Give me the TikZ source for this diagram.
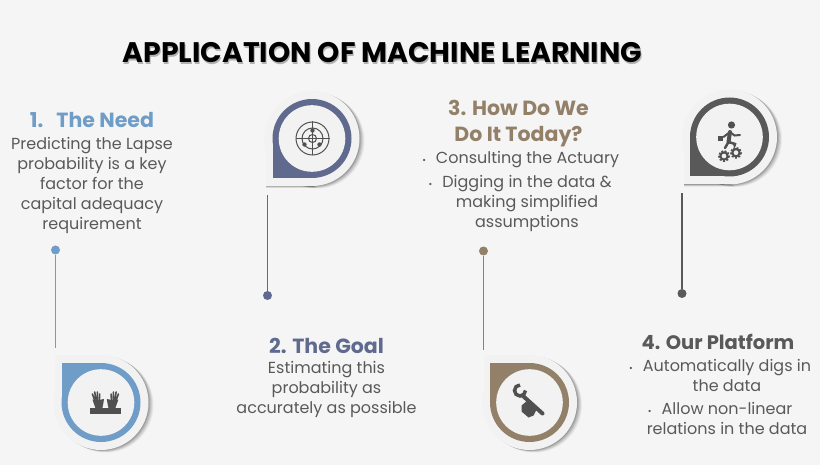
\documentclass[tikz,border=0pt]{standalone}
\usepackage{xcolor}
\usepackage{fontspec}
\setmainfont{Poppins}
\usetikzlibrary{positioning}
\definecolor{bgcol}{HTML}{F5F5F5}
\definecolor{paper}{HTML}{F2F2F2}
\definecolor{needcol}{HTML}{6F9DC8}
\definecolor{goalcol}{HTML}{5F6A8E}
\definecolor{todaycol}{HTML}{928069}
\definecolor{platcol}{HTML}{595959}
\definecolor{bodycol}{HTML}{595959}
\definecolor{iconcol}{HTML}{505050}
\tikzset{
  title/.style={font=\bfseries\fontsize{28.3}{32}\selectfont, inner sep=0pt},
  head/.style={font=\bfseries\fontsize{20.5}{26}\selectfont, inner sep=0pt, align=center},
  body/.style={font=\fontsize{16}{20}\selectfont, text=bodycol, inner sep=0pt, align=center},
  dot/.style={circle, minimum size=9pt, inner sep=0pt},
  link/.style={line width=1.4pt},
  icon/.style={fill=iconcol, draw=none}
}
% tear-shaped pin: #1 centre, #2 colour, #3 side of the corner (-1 above, 1 below)
\newcommand{\pinshape}[3]{
  \begin{scope}[shift={#1}]
    \foreach \s/\o in {5/.05, 4/.07, 3/.08, 2/.10, 1/.12}{
      \fill[black, opacity=\o] (\s,.5*\s) circle (47.5);
      \fill[black, opacity=\o] (\s,.5*\s) rectangle (-46,47.5*#3+.5*\s);
    }
    \fill[paper] (0,0) circle (47.5);
    \fill[paper] (0,0) rectangle (-46,47.5*#3);
    \fill[#2] (0,0) circle (39.5);
    \fill[#2] (0,0) rectangle (-39.5,39.5*#3);
    \fill[paper] (0,0) circle (33.3);
  \end{scope}
}
\newcommand{\bul}{\llap{{\fontsize{9}{9}\selectfont\textbullet}\hspace{10pt}}}
\begin{document}
\begin{tikzpicture}[x=1pt,y=-1pt]
  \useasboundingbox[fill=bgcol] (0,0) rectangle (820,465);

  \node[title, text=black!30] (titleshadow) at (383.5,54.5) {APPLICATION OF MACHINE LEARNING};
  \node[title] (title) at (382.5,53) {APPLICATION OF MACHINE LEARNING};

  % pins
  \pinshape{(101,402.5)}{needcol}{-1}
  \pinshape{(312,138.5)}{goalcol}{1}
  \pinshape{(529.5,402.5)}{todaycol}{-1}
  \pinshape{(729.5,137)}{platcol}{1}
  \coordinate (pin1) at (55.5,348);
  \coordinate (pin2) at (267.5,195);
  \coordinate (pin3) at (483.5,350);
  \coordinate (pin4) at (682,193);

  % dots and links
  \node[dot, fill=needcol] (dot1) at (55.5,250) {};
  \node[dot, fill=goalcol] (dot2) at (267.5,295.5) {};
  \node[dot, fill=todaycol] (dot3) at (483.5,251) {};
  \node[dot, fill=platcol] (dot4) at (682,293.5) {};
  \draw[link, needcol] (dot1.south) -- (pin1);
  \draw[link, goalcol] (dot2.north) -- (pin2);
  \draw[link, todaycol] (dot3.south) -- (pin3);
  \draw[link, platcol] (dot4.north) -- (pin4);

  % texts
  \node[head, text=needcol] (need) at (92,120) {1.\ \ \ The Need};
  \node[body, below=9pt of need] (needtext) {Predicting the Lapse\\probability is a key\\factor for the\\capital adequacy\\requirement};
  \node[head, text=goalcol] (goal) at (326.5,345.5) {2. The Goal};
  \node[body, below=8pt of goal] (goaltext) {Estimating this\\probability as\\accurately as possible};
  \node[head, text=todaycol] (today) at (518.5,124) {3. How Do We\\Do It Today?};
  \node[body] (todaytext1) at (527.5,160) {\bul Consulting the Actuary};
  \node[body, anchor=north] (todaytext2) at (527,175) {\bul Digging in the data \&\\making simplified\\assumptions};
  \node[head, text=platcol, font=\bfseries\fontsize{19.5}{26}\selectfont] (plat) at (718,341.5) {4. Our Platform};
  \node[body, anchor=north] (plattext1) at (727,359) {\bul Automatically digs in\\the data};
  \node[body, anchor=north] (plattext2) at (727,402) {\bul Allow non-linear\\relations in the data};

  % icons
  \begin{scope}[shift={(101,402.5)}]
    \fill[icon] (-11,5.2) rectangle (19.7,11.5);
    \foreach \m in {1,-1}{
      \begin{scope}[shift={(4.4,0)}, xscale=\m]
        \fill[icon] (-13,-3) -- (-4,-3) -- (-1.4,-3.5) -- (-2,.5) -- (-3,5.5) -- (-10,5.5) -- cycle;
        \draw[iconcol, line width=1.6pt, line cap=round] (-11,-3) -- (-13,-8.5) (-9.5,-3) -- (-10.7,-10.5) (-8,-3) -- (-8,-10.5) (-6,-3) -- (-5.7,-8.5);
      \end{scope}
    }
  \end{scope}
  \begin{scope}[shift={(312.5,138.5)}, draw=iconcol, line width=1pt]
    \draw (0,0) circle (16.5);
    \draw (0,0) circle (10.5);
    \draw (0,0) circle (4);
    \draw (-17,0) -- (17,0);
    \draw (0,-17) -- (0,17);
    \fill[icon] (0,-8) circle (2.2);
    \fill[icon] (-8,6) circle (2.2);
    \fill[icon] (7,6) circle (2.2);
  \end{scope}
  \begin{scope}[shift={(529.5,402.5)}]
    \draw[iconcol, line width=3.5pt] (-4,-12) arc[start angle=0, end angle=270, radius=5.5];
    \draw[iconcol, line width=4pt, line cap=round] (-7,-7) -- (13,11);
    \fill[icon] (-8,3) -- (-2,-2) -- (2,0) -- (7,7) -- (4,13) -- (-1,15) -- (-8,9) -- cycle;
  \end{scope}
  \begin{scope}[shift={(729.5,137)}]
    \fill[icon] (2,-12) circle (3.6);
    \draw[iconcol, line width=4pt, line cap=round] (0.5,-5) -- (-1,5);
    \draw[iconcol, line width=2.5pt, line cap=round] (-1,5) -- (-4.5,11) (-1,5) -- (5.5,7) -- (5,9);
    \draw[iconcol, line width=2pt, line cap=round] (0.5,-5) -- (5,-1.5) -- (10.5,-2) (0.5,-5) -- (-6,0);
    \fill[icon] (-12,-1) rectangle (-6.5,4);
    \foreach \gx/\gy in {-5.5/19, 6.5/15.7}{
      \draw[iconcol, line width=2pt] (\gx,\gy) circle (3.6);
      \draw[iconcol, line width=1.6pt, dash pattern=on 2pt off 1.5pt] (\gx,\gy) circle (5.2);
    }
  \end{scope}
\end{tikzpicture}
\end{document}
